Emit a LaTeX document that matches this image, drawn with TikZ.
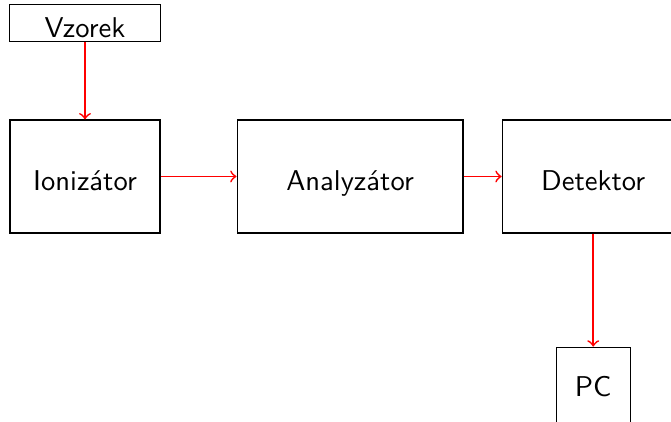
\documentclass[tikz,border=0pt]{standalone}
\usetikzlibrary{positioning}
\tikzset{
  blok/.style = {draw = black, inner sep = 0pt, font = \sffamily},
  nizko/.style = {text height = 9.8pt, text depth = 0pt},
  sipka/.style = {->, red, semithick},
}
\begin{document}
\begin{tikzpicture}[color = {black}]
    \clip (0,0) rectangle (8.243,5.172);
    \useasboundingbox (0,0) rectangle (8.243,5.172);
    \node[blok, nizko, minimum width = 1.843cm, minimum height = 1.388cm] (ionizator) at (1.044,3.004) {Ionizátor};
    \node[blok, nizko, minimum width = 2.776cm, minimum height = 1.388cm, right = 0.933cm of ionizator] (analyzator) {Analyzátor};
    \node[blok, nizko, minimum width = 2.236cm, minimum height = 1.388cm, right = 0.467cm of analyzator] (detektor) {Detektor};
    \node[blok, nizko, minimum width = 1.855cm, minimum height = 0.454cm, above = 0.946cm of ionizator] (vzorek) {Vzorek};
    \node[blok, minimum width = 0.909cm, minimum height = 0.958cm, below = 1.389cm of detektor] (pc) {PC};
    \draw[sipka] (vzorek) -- (ionizator);
    \draw[sipka] (ionizator) -- (analyzator);
    \draw[sipka] (analyzator) -- (detektor);
    \draw[sipka] (detektor) -- (pc);
\end{tikzpicture}
\end{document}
